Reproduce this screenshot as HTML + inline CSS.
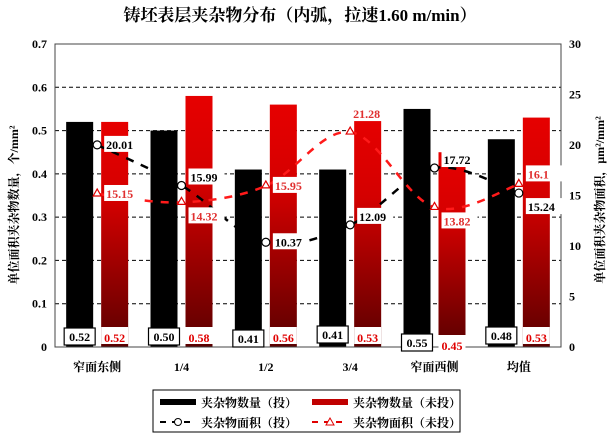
<!DOCTYPE html>
<html><head><meta charset="utf-8">
<style>
body{margin:0;background:#fff;}
svg{display:block;font-family:"Liberation Serif","Noto Serif CJK SC",serif;}
</style></head>
<body>
<svg id="c" width="614" height="436" viewBox="0 0 614 436">
<defs>
<linearGradient id="rg" x1="0" y1="0" x2="0" y2="1">
<stop offset="0" stop-color="#e60000"/><stop offset="0.35" stop-color="#d40000"/><stop offset="1" stop-color="#5a0000"/>
</linearGradient>
</defs>
<text x="300" y="21" text-anchor="middle" font-size="17" font-weight="bold">铸坯表层夹杂物分布（内弧，拉速1.60 m/min）</text>
<g id="grid"></g>
<g id="bars"></g>
<g id="lines"></g>
<g id="axes"></g>
<g id="labels"></g>
<text transform="translate(18,205) rotate(-90)" text-anchor="middle" font-size="12" font-weight="bold">单位面积夹杂物数量，个/mm²</text>
<text transform="translate(604,200) rotate(-90)" text-anchor="middle" font-size="12" font-weight="bold">单位面积夹杂物面积，μm²/mm²</text>
<g>
<rect x="153" y="390" width="307" height="42" fill="#fff" stroke="#000" stroke-width="1"/>
<rect x="160" y="399" width="36" height="6" fill="#000"/>
<text x="201" y="407" font-size="12" font-weight="bold">夹杂物数量（投）</text>
<rect x="312" y="399" width="36" height="6" fill="#c00000"/>
<text x="353" y="407" font-size="12" font-weight="bold">夹杂物数量（未投）</text>
<line x1="160" y1="422" x2="196" y2="422" stroke="#000" stroke-width="2" stroke-dasharray="6,6"/>
<circle cx="178" cy="422" r="3.5" fill="#fff" stroke="#000"/>
<text x="201" y="427" font-size="12" font-weight="bold">夹杂物面积（投）</text>
<line x1="312" y1="422" x2="348" y2="422" stroke="#e00000" stroke-width="2" stroke-dasharray="6,6"/>
<path d="M330,418 L334,425 L326,425Z" fill="#fff" stroke="#e00000"/>
<text x="353" y="427" font-size="12" font-weight="bold">夹杂物面积（未投）</text>
</g>
</svg>
<script>
const categories=["窄面东侧","1/4","1/2","3/4","窄面西侧","均值"];
const countTou=[0.52,0.50,0.41,0.41,0.55,0.48];
const countWeiTou=[0.52,0.58,0.56,0.53,0.45,0.53];
const areaTou=[20.01,15.99,10.37,12.09,17.72,15.24];
const areaWeiTou=[15.15,14.32,15.95,21.28,13.82,16.1];
const leftTicks=[0,0.1,0.2,0.3,0.4,0.5,0.6,0.7];
const rightTicks=[0,5,10,15,20,25,30];
const NS="http://www.w3.org/2000/svg";
const L=55,R=561,T=44,B=347;
const yL=v=>B-(v/0.7)*(B-T);
const yR=v=>B-(v/30)*(B-T);
const bw=(R-L)/categories.length;
const xc=i=>L+bw*(i+0.5);
const offA=[0,-8,0,-8,-8,14];
const offB=[0,14,0,-18,14,-10];
const boxDy=[0,0,2,-2,6,-1];
const redDy=[0,0,0,0,8,0];
function mk(tag,attrs,parent,text){const e=document.createElementNS(NS,tag);for(const k in attrs)e.setAttribute(k,attrs[k]);if(text!==undefined)e.textContent=text;document.getElementById(parent).appendChild(e);return e;}
leftTicks.forEach((t,i)=>{if(t>0&&t<0.7){const g=mk('line',{x1:L,x2:R,y1:yL(t),y2:yL(t),stroke:'#000','stroke-dasharray':'4,3','stroke-width':1},'grid');

}});
mk('rect',{x:L,y:T,width:R-L,height:B-T,fill:'none',stroke:'#444','stroke-width':1},'axes');
leftTicks.forEach(t=>{const e=mk('text',{x:L-8,y:yL(t)+4,'text-anchor':'end','font-size':12,'font-weight':'bold'},'axes',t===0?'0':t.toFixed(1));

});
rightTicks.forEach(t=>{const e=mk('text',{x:R+8,y:yR(t)+4,'text-anchor':'start','font-size':12,'font-weight':'bold'},'axes',String(t));

});
categories.forEach((c,i)=>{const e=mk('text',{x:xc(i),y:371,'text-anchor':'middle','font-size':12,'font-weight':'bold'},'axes',c);

});
categories.forEach((c,i)=>{
const b1=mk('rect',{x:xc(i)-31,y:yL(countTou[i]),width:27,height:B-yL(countTou[i]),fill:'#000'},'bars');


const b2=mk('rect',{x:xc(i)+4,y:yL(countWeiTou[i]),width:27,height:B-yL(countWeiTou[i]),fill:'url(#rg)'},'bars');


const bx=mk('rect',{x:xc(i)-33,y:B-19+boxDy[i],width:31,height:17,fill:'#fff',stroke:'#000','stroke-width':1.2},'labels');


const t1=mk('text',{x:xc(i)-17.5,y:B-6+boxDy[i],'text-anchor':'middle','font-size':12,'font-weight':'bold'},'labels',countTou[i].toFixed(2));


mk('rect',{x:xc(i)+4,y:B-20+redDy[i],width:27,height:17,fill:'#fff'},'labels');
const t2=mk('text',{x:xc(i)+17.5,y:B-5+redDy[i],'text-anchor':'middle','font-size':12,'font-weight':'bold',fill:'#e00000'},'labels',countWeiTou[i].toFixed(2));


});
function smooth(pts){let d=`M${pts[0][0]},${pts[0][1]}`;for(let i=0;i<pts.length-1;i++){const p0=pts[i-1]||pts[i],p1=pts[i],p2=pts[i+1],p3=pts[i+2]||p2;
const c1=[p1[0]+(p2[0]-p0[0])/6,p1[1]+(p2[1]-p0[1])/6],c2=[p2[0]-(p3[0]-p1[0])/6,p2[1]-(p3[1]-p1[1])/6];d+=` C${c1[0]},${c1[1]} ${c2[0]},${c2[1]} ${p2[0]},${p2[1]}`;}return d;}
const pA=areaTou.map((v,i)=>[xc(i),yR(v)]);
const pB=areaWeiTou.map((v,i)=>[xc(i),yR(v)]);
const l1=mk('path',{d:smooth(pA),fill:'none',stroke:'#000','stroke-width':2.5,'stroke-dasharray':'8,8'},'lines');


const l2=mk('path',{d:smooth(pB),fill:'none',stroke:'#ff1a1a','stroke-width':2.5,'stroke-dasharray':'8,8'},'lines');


pA.forEach((p,i)=>{const c=mk('circle',{cx:p[0],cy:p[1],r:4,fill:'#fff',stroke:'#000','stroke-width':1.2},'lines');


const ly=p[1]+4+offA[i];
mk('rect',{x:p[0]+7,y:ly-13,width:36,height:16,fill:'#fff'},'labels');
const t=mk('text',{x:p[0]+9,y:ly,'font-size':12,'font-weight':'bold'},'labels',areaTou[i].toFixed(2));

});
pB.forEach((p,i)=>{const tr=mk('path',{d:`M${p[0]},${p[1]-5} L${p[0]+4},${p[1]+2} L${p[0]-4},${p[1]+2}Z`,fill:'#fff',stroke:'#e00000','stroke-width':1.2},'lines');


const ly=p[1]+4+offB[i];
const lx=i===3?p[0]+3:p[0]+9;
mk('rect',{x:lx-2,y:ly-13,width:36,height:16,fill:'#fff'},'labels');
const t=mk('text',{x:lx,y:ly,'font-size':12,'font-weight':'bold',fill:'#e03030'},'labels',String(areaWeiTou[i]));

});
</script>
</body></html>
